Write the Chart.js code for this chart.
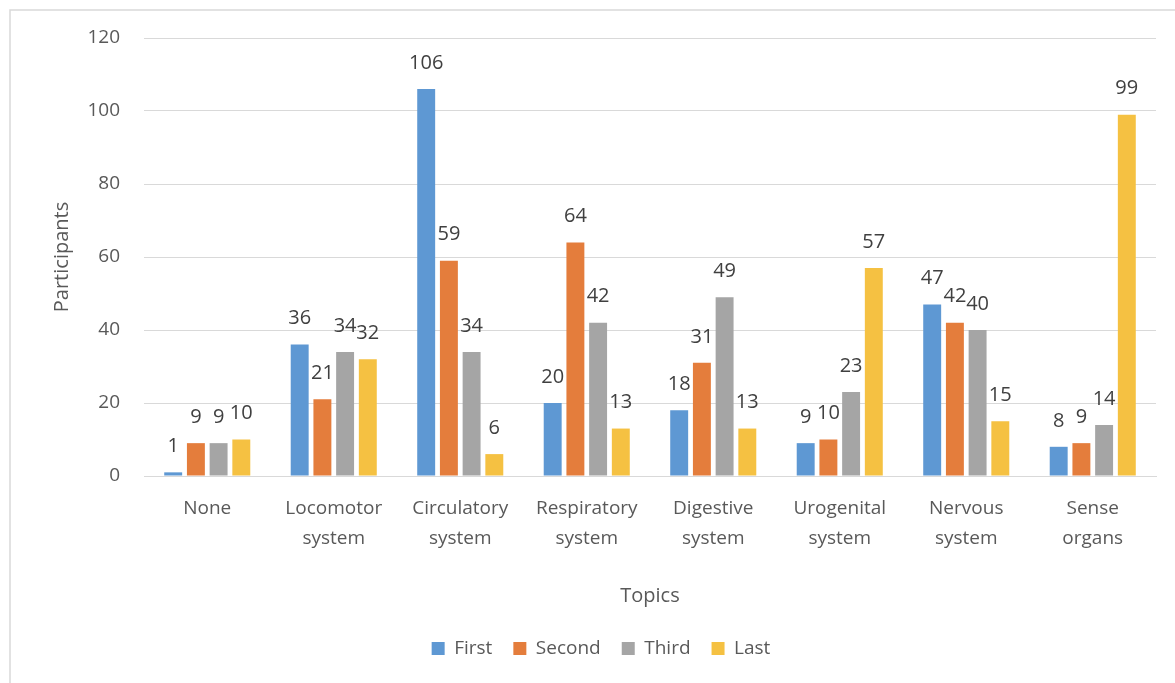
<!DOCTYPE html>
<html>
<head>
<meta charset="utf-8">
<script src="https://cdn.jsdelivr.net/npm/chart.js@4/dist/chart.umd.min.js"></script>
<style>
  html, body { margin: 0; padding: 0; background: #ffffff; overflow: hidden; }
  #wrap { position: relative; width: 1175px; height: 683px; }
</style>
</head>
<body>
<div id="wrap"><canvas id="chart" width="1175" height="683"></canvas></div>
<script>
// Topics and how often each was ranked first / second / third / last
const categories = [
  "None",
  ["Locomotor", "system"],
  ["Circulatory", "system"],
  ["Respiratory", "system"],
  ["Digestive", "system"],
  ["Urogenital", "system"],
  ["Nervous", "system"],
  ["Sense", "organs"]
];
const seriesNames = ["First", "Second", "Third", "Last"];
const firstValues  = [1, 36, 106, 20, 18, 9, 47, 8];
const secondValues = [9, 21, 59, 64, 31, 10, 42, 9];
const thirdValues  = [9, 34, 34, 42, 49, 23, 40, 14];
const lastValues   = [10, 32, 6, 13, 13, 57, 15, 99];
const yTicks = [0, 20, 40, 60, 80, 100, 120];

const seriesColors = ["#5E98D3", "#E47D3C", "#A5A5A5", "#F5C142"];
const textColor = "#595959";
const gridColor = "#d9d9d9";
const fontFamily = "'Open Sans', 'Liberation Sans', sans-serif";

// Frame around the chart (top and left edges visible)
const framePlugin = {
  id: "frame",
  beforeDraw(chart) {
    const ctx = chart.ctx;
    ctx.save();
    ctx.strokeStyle = gridColor;
    ctx.lineWidth = 1.5;
    ctx.beginPath();
    ctx.moveTo(10, chart.height);
    ctx.lineTo(10, 10);
    ctx.lineTo(chart.width, 10);
    ctx.stroke();
    ctx.restore();
  }
};

// Value labels above each bar
const valueLabelPlugin = {
  id: "valueLabels",
  afterDatasetsDraw(chart) {
    const ctx = chart.ctx;
    ctx.save();
    ctx.font = "20px " + fontFamily;
    ctx.fillStyle = "#404040";
    ctx.textAlign = "center";
    ctx.textBaseline = "middle";
    chart.data.datasets.forEach((ds, di) => {
      const meta = chart.getDatasetMeta(di);
      meta.data.forEach((bar, i) => {
        ctx.fillText(String(ds.data[i]), bar.x, bar.y - 26);
      });
    });
    ctx.restore();
  }
};

// Centre the legend under the whole frame rather than the canvas
const legendShiftPlugin = {
  id: "legendShift",
  afterLayout(chart) {
    if (chart.legend) {
      chart.legend.left += 17;
      chart.legend.right += 17;
    }
  }
};

const valueSets = [firstValues, secondValues, thirdValues, lastValues];

new Chart(document.getElementById("chart"), {
  type: "bar",
  data: {
    labels: categories,
    datasets: seriesNames.map((name, i) => ({
      label: name,
      data: valueSets[i],
      backgroundColor: seriesColors[i],
      borderWidth: 0,
      categoryPercentage: 0.718,
      barPercentage: 0.79
    }))
  },
  options: {
    responsive: false,
    animation: false,
    devicePixelRatio: 1,
    layout: { padding: { left: 12, top: 38, right: 19, bottom: 15 } },
    plugins: {
      legend: {
        position: "bottom",
        labels: {
          color: textColor,
          font: { family: fontFamily, size: 19 },
          boxWidth: 13,
          boxHeight: 13,
          padding: 21
        }
      },
      tooltip: { enabled: false }
    },
    scales: {
      x: {
        grid: { display: false, drawTicks: false },
        border: { color: gridColor, width: 1 },
        ticks: {
          color: textColor,
          font: { family: fontFamily, size: 19, lineHeight: 1.58 },
          padding: 18,
          maxRotation: 0,
          autoSkip: false
        },
        title: {
          display: true,
          text: "Topics",
          color: textColor,
          font: { family: fontFamily, size: 20 },
          padding: { top: 0, bottom: 10 }
        },
        afterFit(scale) { scale.height = 142; }
      },
      y: {
        min: 0,
        max: 120,
        afterBuildTicks(scale) { scale.ticks = yTicks.map(v => ({ value: v })); },
        grid: { color: gridColor, lineWidth: 1, drawTicks: false },
        border: { display: false },
        ticks: {
          color: textColor,
          font: { family: fontFamily, size: 19 },
          padding: 24
        },
        title: {
          display: true,
          text: "Participants",
          color: textColor,
          font: { family: fontFamily, size: 20 },
          padding: { top: 38, bottom: 0 }
        },
        afterFit(scale) { scale.width = 132; }
      }
    }
  },
  plugins: [framePlugin, valueLabelPlugin, legendShiftPlugin]
});
</script>
</body>
</html>
